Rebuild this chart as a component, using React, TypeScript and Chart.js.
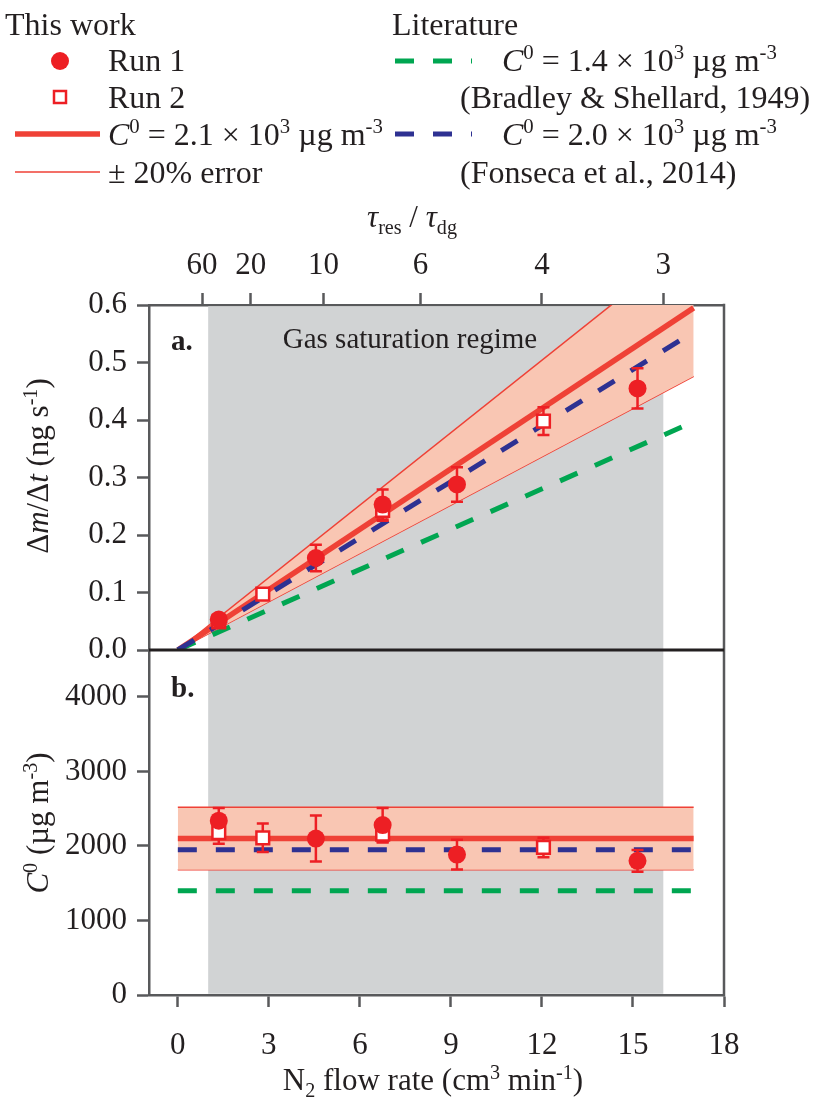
import React, { useEffect, useRef } from 'react';
import { Chart, registerables } from 'chart.js';

Chart.register(...registerables);

const SERIF = '"Liberation Serif", "Times New Roman", serif';
const TEXT = '#231f20';
const AXIS = '#58595b';
const RED_PT = '#ed1f24';
const RED_LINE = '#ef4136';
const BAND = '#f9c6b3';
const GRAY = '#d1d3d4';
const GREEN = '#00a651';
const BLUE = '#2e3192';

// ---- axes ----
const xMin = -0.95;
const xMax = 18;
const xTickValues = [0, 3, 6, 9, 12, 15, 18];
const ratioTickPositions = [0.8, 2.4, 4.8, 8, 12, 16];
const ratioTickLabels = ['60', '20', '10', '6', '4', '3'];
const rateTicks = [0, 0.1, 0.2, 0.3, 0.4, 0.5, 0.6];
const c0Ticks = [0, 1000, 2000, 3000, 4000];
const rateMax = 0.6;
const c0Max = 4630;
const saturationRegime = [1, 16];

// ---- this work: measurements ----
const run1Flow = [1.35, 4.55, 6.75, 9.2, 15.15];
const run1Rate = [0.053, 0.16, 0.253, 0.288, 0.455];
const run1RateErr = [0.007, 0.023, 0.026, 0.03, 0.035];
const run1C0 = [2340, 2100, 2280, 1885, 1800];
const run1C0Err = [170, 310, 230, 200, 145];

const run2Flow = [1.35, 2.8, 6.75, 12.05];
const run2Rate = [0.049, 0.097, 0.243, 0.398];
const run2RateErr = [0.005, 0.008, 0.018, 0.024];
const run2C0 = [2180, 2110, 2160, 1980];
const run2C0Err = [150, 190, 110, 130];

// ---- fitted / literature lines (endpoints) ----
const lineFlow = [0, 17];
const fitRate = [0, 0.595];
const fitRateHigh = [0, 0.714];
const fitRateLow = [0, 0.476];
const bradleyRate = [0, 0.397];
const fonsecaRate = [0, 0.553];
const fitC0 = [2100, 2100];
const fitC0High = [2520, 2520];
const fitC0Low = [1680, 1680];
const bradleyC0 = [1400, 1400];
const fonsecaC0 = [1950, 1950];

type Seg = { t: string; it?: boolean; b?: boolean; sup?: boolean; sub?: boolean };

function fontFor(s: Seg, size: number) {
  const sz = s.sup || s.sub ? size * 0.65 : size;
  return `${s.it ? 'italic ' : ''}${s.b ? 'bold ' : ''}${sz}px ${SERIF}`;
}

function drawRich(ctx: CanvasRenderingContext2D, segs: Seg[], x: number, y: number, size: number, align = 'left', color = TEXT) {
  ctx.save();
  ctx.fillStyle = color;
  ctx.textBaseline = 'alphabetic';
  ctx.textAlign = 'left';
  const widths = segs.map((s) => {
    ctx.font = fontFor(s, size);
    return ctx.measureText(s.t).width;
  });
  const total = widths.reduce((a, b) => a + b, 0);
  let cx = align === 'center' ? x - total / 2 : align === 'right' ? x - total : x;
  segs.forEach((s, i) => {
    ctx.font = fontFor(s, size);
    const dy = s.sup ? -size * 0.36 : s.sub ? size * 0.22 : 0;
    ctx.fillText(s.t, cx, y + dy);
    cx += widths[i];
  });
  ctx.restore();
}

const pts = (xs: number[], ys: number[]) => xs.map((x, i) => ({ x, y: ys[i] }));

const errorSets = [
  { xs: run1Flow, ys: run1Rate, es: run1RateErr, axis: 'yT' },
  { xs: run2Flow, ys: run2Rate, es: run2RateErr, axis: 'yT' },
  { xs: run1Flow, ys: run1C0, es: run1C0Err, axis: 'yB' },
  { xs: run2Flow, ys: run2C0, es: run2C0Err, axis: 'yB' },
];

const overlayPlugin = {
  id: 'overlay',
  beforeDatasetsDraw(chart: any) {
    const { ctx, chartArea, scales } = chart;
    const x = scales.x;
    const x0 = x.getPixelForValue(saturationRegime[0]);
    const x1 = x.getPixelForValue(saturationRegime[1]);
    ctx.save();
    ctx.fillStyle = GRAY;
    ctx.fillRect(x0, chartArea.top + 1.25, x1 - x0, chartArea.bottom - chartArea.top - 2.5);
    ctx.restore();
  },
  afterDatasetDraw(chart: any, args: any) {
    const ds = chart.data.datasets[args.index];
    if (ds.label !== '__errorbars') return;
    const { ctx, scales } = chart;
    ctx.save();
    ctx.strokeStyle = RED_PT;
    ctx.lineWidth = 2.5;
    errorSets.forEach((set) => {
      const ys = scales[set.axis];
      set.xs.forEach((xv, i) => {
        const px = scales.x.getPixelForValue(xv);
        const pTop = ys.getPixelForValue(set.ys[i] + set.es[i]);
        const pBot = ys.getPixelForValue(set.ys[i] - set.es[i]);
        ctx.beginPath();
        ctx.moveTo(px, pTop);
        ctx.lineTo(px, pBot);
        ctx.moveTo(px - 6, pTop);
        ctx.lineTo(px + 6, pTop);
        ctx.moveTo(px - 6, pBot);
        ctx.lineTo(px + 6, pBot);
        ctx.stroke();
      });
    });
    ctx.restore();
  },
  afterDraw(chart: any) {
    const { ctx, chartArea, scales } = chart;
    const mid = scales.yT.bottom;
    ctx.save();
    // right border
    ctx.strokeStyle = AXIS;
    ctx.lineWidth = 2.5;
    ctx.beginPath();
    ctx.moveTo(chartArea.right, chartArea.top - 1.25);
    ctx.lineTo(chartArea.right, chartArea.bottom + 1.25);
    ctx.stroke();
    // panel divider
    ctx.strokeStyle = '#231f20';
    ctx.lineWidth = 3;
    ctx.beginPath();
    ctx.moveTo(chartArea.left, mid);
    ctx.lineTo(chartArea.right, mid);
    ctx.stroke();
    ctx.restore();

    // panel labels
    drawRich(ctx, [{ t: 'a.', b: true }], 171, 350, 29);
    drawRich(ctx, [{ t: 'b.', b: true }], 171, 697, 29);
    drawRich(ctx, [{ t: 'Gas saturation regime' }], 410, 348, 29, 'center');

    // axis titles
    drawRich(
      ctx,
      [{ t: 'N' }, { t: '2', sub: true }, { t: ' flow rate (cm' }, { t: '3', sup: true }, { t: ' min' }, { t: '-1', sup: true }, { t: ')' }],
      433, 1090, 31, 'center'
    );
    drawRich(
      ctx,
      [{ t: 'τ', it: true }, { t: 'res', sub: true }, { t: ' / ' }, { t: 'τ', it: true }, { t: 'dg', sub: true }],
      412, 227, 31, 'center'
    );
    ctx.save();
    ctx.translate(48, 466);
    ctx.rotate(-Math.PI / 2);
    drawRich(
      ctx,
      [{ t: 'Δ' }, { t: 'm', it: true }, { t: '/Δ' }, { t: 't', it: true }, { t: ' (ng s' }, { t: '-1', sup: true }, { t: ')' }],
      0, 0, 31, 'center'
    );
    ctx.restore();
    ctx.save();
    ctx.translate(48, 823);
    ctx.rotate(-Math.PI / 2);
    drawRich(
      ctx,
      [{ t: 'C', it: true }, { t: '0', sup: true }, { t: ' (µg m' }, { t: '-3', sup: true }, { t: ')' }],
      0, 0, 31, 'center'
    );
    ctx.restore();

    // legend
    const LS = 32;
    drawRich(ctx, [{ t: 'This work' }], 5, 35, LS);
    ctx.save();
    ctx.fillStyle = RED_PT;
    ctx.beginPath();
    ctx.arc(60, 61, 9, 0, Math.PI * 2);
    ctx.fill();
    ctx.fillStyle = '#ffffff';
    ctx.strokeStyle = RED_PT;
    ctx.lineWidth = 2.5;
    ctx.fillRect(54, 91, 12, 12);
    ctx.strokeRect(54, 91, 12, 12);
    ctx.strokeStyle = RED_LINE;
    ctx.lineWidth = 5.5;
    ctx.beginPath();
    ctx.moveTo(15, 134);
    ctx.lineTo(100, 134);
    ctx.stroke();
    ctx.lineWidth = 1.5;
    ctx.beginPath();
    ctx.moveTo(15, 172);
    ctx.lineTo(100, 172);
    ctx.stroke();
    ctx.lineWidth = 5;
    ctx.setLineDash([19, 19]);
    ctx.strokeStyle = GREEN;
    ctx.beginPath();
    ctx.moveTo(395, 61);
    ctx.lineTo(472, 61);
    ctx.stroke();
    ctx.strokeStyle = BLUE;
    ctx.beginPath();
    ctx.moveTo(395, 134);
    ctx.lineTo(472, 134);
    ctx.stroke();
    ctx.restore();
    drawRich(ctx, [{ t: 'Run 1' }], 108, 71, LS);
    drawRich(ctx, [{ t: 'Run 2' }], 108, 108, LS);
    drawRich(ctx, [{ t: 'C', it: true }, { t: '0', sup: true }, { t: ' = 2.1 × 10' }, { t: '3', sup: true }, { t: ' µg m' }, { t: '-3', sup: true }], 108, 145, LS);
    drawRich(ctx, [{ t: '± 20% error' }], 108, 183, LS);
    drawRich(ctx, [{ t: 'Literature' }], 392, 35, LS);
    drawRich(ctx, [{ t: 'C', it: true }, { t: '0', sup: true }, { t: ' = 1.4 × 10' }, { t: '3', sup: true }, { t: ' µg m' }, { t: '-3', sup: true }], 502, 71, LS);
    drawRich(ctx, [{ t: '(Bradley & Shellard, 1949)' }], 460, 108, LS);
    drawRich(ctx, [{ t: 'C', it: true }, { t: '0', sup: true }, { t: ' = 2.0 × 10' }, { t: '3', sup: true }, { t: ' µg m' }, { t: '-3', sup: true }], 502, 145, LS);
    drawRich(ctx, [{ t: '(Fonseca et al., 2014)' }], 460, 183, LS);
  },
};

const tickFont = { family: SERIF, size: 31 };
const gridOpts = {
  display: true,
  drawOnChartArea: false,
  drawTicks: true,
  tickLength: 12,
  tickWidth: 2.5,
  tickColor: AXIS,
};
const borderOpts = { display: true, color: AXIS, width: 2.5 };

export default function App() {
  const ref = useRef<HTMLCanvasElement | null>(null);
  useEffect(() => {
    if (!ref.current) return;
    const lineDs = (label: string, ys: number[], axis: string, color: string, width: number, order: number, extra: any = {}) => ({
      type: 'line',
      label,
      yAxisID: axis,
      data: pts(lineFlow, ys),
      borderColor: color,
      borderWidth: width,
      pointRadius: 0,
      fill: false,
      order,
      ...extra,
    });
    const chart = new Chart(ref.current, {
      type: 'line',
      data: {
        datasets: [
          {
            label: 'Run 1 rate', yAxisID: 'yT', data: pts(run1Flow, run1Rate), showLine: false,
            pointStyle: 'circle', pointRadius: 9, pointBackgroundColor: RED_PT, pointBorderColor: RED_PT, pointBorderWidth: 0, order: 0,
          },
          {
            label: 'Run 1 C0', yAxisID: 'yB', data: pts(run1Flow, run1C0), showLine: false,
            pointStyle: 'circle', pointRadius: 9, pointBackgroundColor: RED_PT, pointBorderColor: RED_PT, pointBorderWidth: 0, order: 0,
          },
          {
            label: 'Run 2 rate', yAxisID: 'yT', data: pts(run2Flow, run2Rate), showLine: false,
            pointStyle: 'rect', pointRadius: 9, pointBackgroundColor: '#ffffff', pointBorderColor: RED_PT, pointBorderWidth: 2.5, order: 1,
          },
          {
            label: 'Run 2 C0', yAxisID: 'yB', data: pts(run2Flow, run2C0), showLine: false,
            pointStyle: 'rect', pointRadius: 9, pointBackgroundColor: '#ffffff', pointBorderColor: RED_PT, pointBorderWidth: 2.5, order: 1,
          },
          { label: '__errorbars', yAxisID: 'yT', data: [], pointRadius: 0, order: 1.5 },
          lineDs('Fonseca rate', fonsecaRate, 'yT', BLUE, 5, 2, { borderDash: [19, 19], borderCapStyle: 'butt' }),
          lineDs('Fonseca C0', fonsecaC0, 'yB', BLUE, 5, 2, { borderDash: [19, 19], borderCapStyle: 'butt' }),
          lineDs('Bradley rate', bradleyRate, 'yT', GREEN, 5, 3, { borderDash: [19, 19], borderCapStyle: 'butt' }),
          lineDs('Bradley C0', bradleyC0, 'yB', GREEN, 5, 3, { borderDash: [19, 19], borderCapStyle: 'butt' }),
          lineDs('Fit rate', fitRate, 'yT', RED_LINE, 5.5, 4),
          lineDs('Fit C0', fitC0, 'yB', RED_LINE, 5.5, 4),
          lineDs('Fit rate +20%', fitRateHigh, 'yT', RED_LINE, 1.5, 5, { fill: '+1', backgroundColor: BAND }),
          lineDs('Fit rate -20%', fitRateLow, 'yT', RED_LINE, 1.5, 5),
          lineDs('Fit C0 +20%', fitC0High, 'yB', RED_LINE, 1.5, 5, { fill: '+1', backgroundColor: BAND }),
          lineDs('Fit C0 -20%', fitC0Low, 'yB', RED_LINE, 1.5, 5),
        ] as any,
      },
      options: {
        animation: false,
        responsive: false,
        maintainAspectRatio: false,
        layout: { padding: { left: 0, right: 90, top: 0, bottom: 0 } },
        plugins: { legend: { display: false }, tooltip: { enabled: false } },
        scales: {
          x: {
            type: 'linear', position: 'bottom', min: xMin, max: xMax,
            afterBuildTicks: (s: any) => { s.ticks = xTickValues.map((v) => ({ value: v })); },
            afterFit: (s: any) => { s.height = 106; },
            ticks: { font: tickFont, color: TEXT, padding: 20, maxRotation: 0, autoSkip: false },
            grid: gridOpts, border: borderOpts,
          },
          xTop: {
            type: 'linear', position: 'top', min: xMin, max: xMax,
            afterBuildTicks: (s: any) => { s.ticks = ratioTickPositions.map((v) => ({ value: v })); },
            afterFit: (s: any) => { s.height = 305; },
            ticks: {
              font: tickFont, color: TEXT, padding: 9, maxRotation: 0, autoSkip: false,
              callback: (_v: any, i: number) => ratioTickLabels[i],
            },
            grid: gridOpts, border: borderOpts,
          },
          yB: {
            type: 'linear', position: 'left', stack: 'panels', stackWeight: 1, min: 0, max: c0Max,
            afterBuildTicks: (s: any) => { s.ticks = c0Ticks.map((v) => ({ value: v })); },
            afterFit: (s: any) => { s.width = 149; },
            ticks: { font: tickFont, color: TEXT, padding: 10, callback: (v: any) => String(v) },
            grid: gridOpts, border: borderOpts,
          },
          yT: {
            type: 'linear', position: 'left', stack: 'panels', stackWeight: 1, min: 0, max: rateMax,
            afterBuildTicks: (s: any) => { s.ticks = rateTicks.map((v) => ({ value: v })); },
            afterFit: (s: any) => { s.width = 149; },
            ticks: { font: tickFont, color: TEXT, padding: 10, callback: (v: any) => Number(v).toFixed(1) },
            grid: gridOpts, border: borderOpts,
          },
        },
      } as any,
      plugins: [overlayPlugin],
    });
    return () => chart.destroy();
  }, []);
  return (
    <div style={{ position: 'absolute', left: 0, top: 0, width: 814, height: 1101, background: '#ffffff' }}>
      <canvas ref={ref} width={814} height={1101} style={{ width: 814, height: 1101, display: 'block' }} />
    </div>
  );
}
